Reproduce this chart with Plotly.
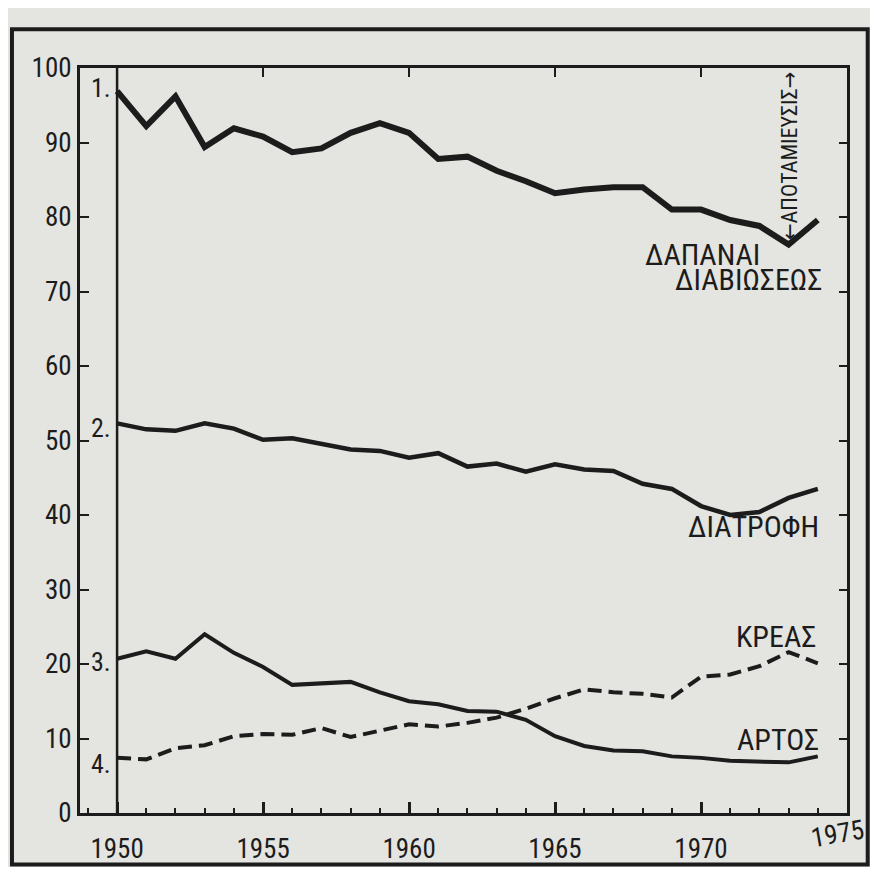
import plotly.graph_objects as go

years = list(range(1950, 1975))

# 1. ΔΑΠΑΝΑΙ ΔΙΑΒΙΩΣΕΩΣ
living_costs = [96.9, 92.2, 96.2, 89.4, 91.9, 90.8, 88.7, 89.2, 91.3, 92.6,
                91.3, 87.8, 88.1, 86.2, 84.8, 83.2, 83.7, 84.0, 84.0, 81.0,
                81.0, 79.6, 78.8, 76.3, 79.6]
# 2. ΔΙΑΤΡΟΦΗ
food = [52.3, 51.5, 51.3, 52.3, 51.6, 50.1, 50.3, 49.5, 48.8, 48.6,
        47.7, 48.3, 46.5, 46.9, 45.8, 46.8, 46.1, 45.9, 44.2, 43.5,
        41.2, 40.0, 40.4, 42.3, 43.5]
# 3. ΑΡΤΟΣ
bread = [20.7, 21.7, 20.7, 24.0, 21.5, 19.6, 17.2, 17.4, 17.6, 16.2,
         15.0, 14.6, 13.7, 13.6, 12.5, 10.3, 9.0, 8.4, 8.3, 7.6,
         7.4, 7.0, 6.9, 6.8, 7.6]
# 4. ΚΡΕΑΣ
meat = [7.4, 7.2, 8.7, 9.1, 10.3, 10.6, 10.5, 11.4, 10.2, 11.0,
        11.9, 11.6, 12.1, 12.8, 14.0, 15.4, 16.6, 16.2, 16.0, 15.5,
        18.3, 18.6, 19.7, 21.6, 20.1]

y_ticks = [0, 10, 20, 30, 40, 50, 60, 70, 80, 90, 100]
x_ticks = [1950, 1955, 1960, 1965, 1970, 1975]

INK = "#1c1c1c"
PAPER = "#e4e4e0"
NARROW = "Liberation Sans Narrow, Roboto Condensed, DejaVu Sans Condensed, Roboto, sans-serif"
label_font = dict(family=NARROW, size=30, color=INK)
tick_font = dict(family=NARROW, size=27, color=INK)

fig = go.Figure()
fig.add_trace(go.Scatter(x=years, y=living_costs, mode="lines",
                         line=dict(color=INK, width=6), showlegend=False))
fig.add_trace(go.Scatter(x=years, y=food, mode="lines",
                         line=dict(color=INK, width=4.5), showlegend=False))
fig.add_trace(go.Scatter(x=years, y=bread, mode="lines",
                         line=dict(color=INK, width=4), showlegend=False))
fig.add_trace(go.Scatter(x=years, y=meat, mode="lines",
                         line=dict(color=INK, width=4, dash="14px,7px"), showlegend=False))
# invisible trace to activate the mirrored tick axes
fig.add_trace(go.Scatter(x=[1950], y=[0], xaxis="x2", yaxis="y2", mode="markers",
                         marker=dict(opacity=0), showlegend=False, hoverinfo="skip"))

xr = [1948.73, 1975]
yr = [0, 100]

# last year label is drawn tilted as an annotation (as in the original print)
x_ticktext = [str(v) for v in x_ticks[:-1]] + [""]

fig.update_layout(
    width=862, height=859,
    margin=dict(l=72, r=23, t=60, b=54),
    paper_bgcolor=PAPER, plot_bgcolor=PAPER,
    xaxis=dict(range=xr, tickvals=x_ticks, ticktext=x_ticktext,
               ticks="inside", ticklen=11, tickwidth=3, tickcolor=INK,
               minor=dict(dtick=1, tick0=1950, ticks="inside", ticklen=5, tickwidth=2, tickcolor=INK),
               showline=True, linecolor=INK, linewidth=3, mirror=True,
               showgrid=False, zeroline=False, tickfont=tick_font,
               ticklabelstandoff=10, automargin=False),
    yaxis=dict(range=yr, tickvals=y_ticks, ticks="inside", ticklen=9, tickwidth=2,
               tickcolor=INK, showline=True, linecolor=INK, linewidth=3, mirror=True,
               showgrid=False, zeroline=False, tickfont=tick_font, automargin=False),
    xaxis2=dict(range=xr, overlaying="x", side="top", tickvals=x_ticks, ticks="inside",
                ticklen=9, tickwidth=2, tickcolor=INK, showticklabels=False,
                showgrid=False, zeroline=False, showline=False),
    yaxis2=dict(range=yr, overlaying="y", side="right", tickvals=y_ticks, ticks="inside",
                ticklen=8, tickwidth=2, tickcolor=INK, showticklabels=False,
                showgrid=False, zeroline=False, showline=False),
)

fig.add_annotation(x=x_ticks[-1], y=-0.028, xref="x", yref="paper", text=str(x_ticks[-1]),
                   showarrow=False, textangle=-10, xanchor="center", yanchor="middle",
                   xshift=-10, font=tick_font)

# inner vertical line at 1950
fig.add_shape(type="line", x0=1950, x1=1950, y0=0, y1=1, xref="x", yref="paper",
              line=dict(color=INK, width=2.5))
# outer frame of the page
fig.add_shape(type="rect", x0=-0.0887, x1=1.027, y0=-0.069, y1=1.052,
              xref="paper", yref="paper", line=dict(color=INK, width=4), layer="below")

# series numbers
for txt, val in [("1.", 97.3), ("2.", 51.7), ("3.", 20.3), ("4.", 6.6)]:
    fig.add_annotation(x=1949.45, y=val, text=txt, showarrow=False,
                       font=dict(family=NARROW, size=26, color=INK))

# series names
for txt, xv, yv in [("ΔΑΠΑΝΑΙ", 1972.1, 75.0), ("ΔΙΑΒΙΩΣΕΩΣ", 1974.2, 71.6),
                    ("ΔΙΑΤΡΟΦΗ", 1974.1, 38.5), ("ΚΡΕΑΣ", 1974.0, 23.7),
                    ("ΑΡΤΟΣ", 1974.1, 9.8)]:
    fig.add_annotation(x=xv, y=yv, text=txt, showarrow=False, xanchor="right",
                       font=label_font)

fig.add_annotation(x=1973.05, y=88.2, text="←ΑΠΟΤΑΜΙΕΥΣΙΣ→", showarrow=False,
                   textangle=-90, font=dict(family=NARROW, size=22, color=INK))

fig.write_html("out.html")
